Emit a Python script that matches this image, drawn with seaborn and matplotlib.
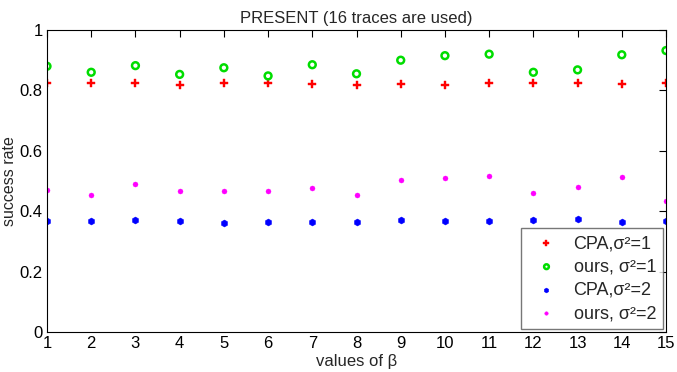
import numpy as np
import pandas as pd
import matplotlib
matplotlib.use("Agg")
import matplotlib.pyplot as plt
import seaborn as sns

# Data
beta = list(range(1, 16))
cpa_s1 = [0.825, 0.823, 0.823, 0.818, 0.826, 0.823, 0.820, 0.818, 0.820, 0.818, 0.826, 0.823, 0.823, 0.820, 0.826]
ours_s1 = [0.880, 0.860, 0.882, 0.853, 0.875, 0.848, 0.885, 0.855, 0.900, 0.915, 0.920, 0.860, 0.868, 0.918, 0.932]
cpa_s2 = [0.368, 0.366, 0.371, 0.366, 0.362, 0.364, 0.364, 0.364, 0.371, 0.366, 0.368, 0.371, 0.373, 0.364, 0.368]
ours_s2 = [0.470, 0.455, 0.490, 0.468, 0.468, 0.468, 0.478, 0.452, 0.502, 0.510, 0.517, 0.460, 0.480, 0.513, 0.435]

labels = ["CPA,σ²=1", "ours, σ²=1", "CPA,σ²=2", "ours, σ²=2"]

sns.set_style("white")
plt.rcParams['font.family'] = ['Liberation Sans', 'DejaVu Sans']

fig = plt.figure(figsize=(6.77, 3.72), dpi=100)
ax = fig.add_axes([47/677, 40/372, 619/677, 302/372])

sns.scatterplot(x=beta, y=cpa_s1, ax=ax, marker='P', s=32, color='#ff0000',
                edgecolor='#ff0000', linewidth=0.3, label=labels[0])
sns.scatterplot(x=beta, y=ours_s1, ax=ax, marker='o', s=24, facecolor='none',
                edgecolor='#00dd00', linewidth=1.8, label=labels[1])
sns.scatterplot(x=beta, y=cpa_s2, ax=ax, marker='h', s=26, color='#0000ff',
                edgecolor='#0000ff', linewidth=0.3, label=labels[2])
sns.scatterplot(x=beta, y=ours_s2, ax=ax, marker='o', s=13, color='#ff00ff',
                edgecolor='#ff00ff', linewidth=0.3, label=labels[3])

ax.set_xlim(1, 15)
ax.set_ylim(0, 1)
ax.set_xticks(beta)
ax.set_yticks([0, 0.2, 0.4, 0.6, 0.8, 1])
ax.set_yticklabels(["0", "0.2", "0.4", "0.6", "0.8", "1"])
ax.tick_params(direction='in', top=True, right=True, length=5, width=0.8,
               labelsize=12, colors='black', pad=3)
for sp in ax.spines.values():
    sp.set_color('black')
    sp.set_linewidth(0.8)

ax.set_xlabel("values of β", fontsize=12, labelpad=2)
ax.set_ylabel("success rate", fontsize=11.5, labelpad=2)
ax.set_title("PRESENT (16 traces are used)", fontsize=12, pad=5)

leg = ax.legend(loc='lower right', fontsize=13, frameon=True, fancybox=False,
                edgecolor='#555555', borderaxespad=0.15, handletextpad=0.5,
                labelspacing=0.35, markerscale=0.7, borderpad=0.4)
leg.get_frame().set_linewidth(1.0)

fig.savefig("out.png", dpi=100)
